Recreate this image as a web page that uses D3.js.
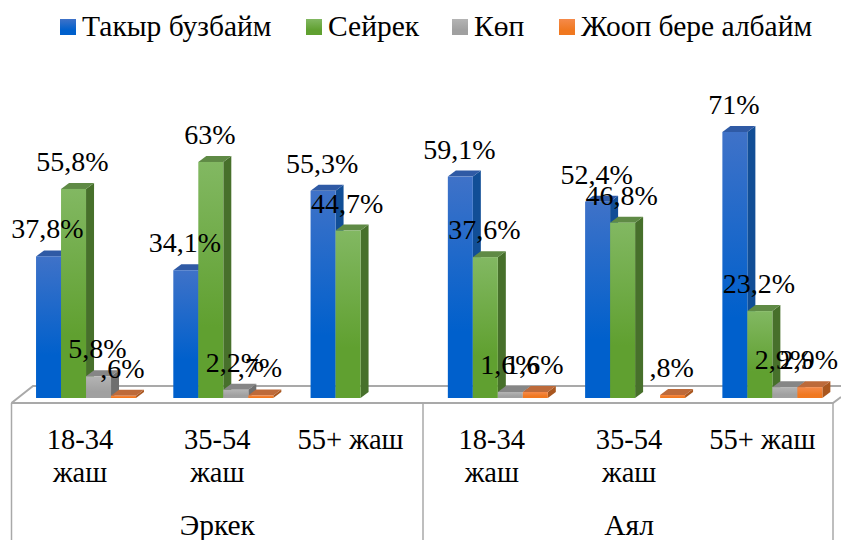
<!DOCTYPE html>
<html><head><meta charset="utf-8">
<script src="https://cdn.jsdelivr.net/npm/d3@7/dist/d3.min.js"></script>
<style>html,body{margin:0;padding:0;background:#fff}svg{display:block}text{font-family:"Liberation Serif",serif;fill:#000}</style>
</head><body><svg id="c" width="841" height="540"></svg>
<script>
const seriesNames=["Такыр бузбайм","Сейрек","Көп","Жооп бере албайм"];
const ageLabels=[["18-34","жаш"],["35-54","жаш"],["55+ жаш"],["18-34","жаш"],["35-54","жаш"],["55+ жаш"]];
const genderLabels=["Эркек","Аял"];
const takyr=[37.8,34.1,55.3,59.1,52.4,71];
const seirek=[55.8,63,44.7,37.6,46.8,23.2];
const kop=[5.8,2.2,null,1.6,null,2.9];
const joop=[0.6,0.7,null,1.6,0.8,2.9];
const valueLabels=[
 ["37,8%","34,1%","55,3%","59,1%","52,4%","71%"],
 ["55,8%","63%","44,7%","37,6%","46,8%","23,2%"],
 ["5,8%","2,2%",null,"1,6%",null,"2,9%"],
 [",6%",",7%",null,"1,6%",",8%","2,9%"]];
const series=[takyr,seirek,kop,joop];
const pal=[
 {top:"#3f72c8",bot:"#0060cc",side:"#114e96",cap:"#2f5aa5"},
 {top:"#82b862",bot:"#60a030",side:"#47702b",cap:"#5f8a45"},
 {top:"#b4b4b4",bot:"#a0a0a0",side:"#6f6f6f",cap:"#868686"},
 {top:"#f58a4a",bot:"#f07820",side:"#a9571f",cap:"#bd6a3a"}];
const svg=d3.select("#c");
const defs=svg.append("defs");
pal.forEach((p,i)=>{const g=defs.append("linearGradient").attr("id","g"+i).attr("x1",0).attr("y1",0).attr("x2",0).attr("y2",1);
 g.append("stop").attr("offset","0%").attr("stop-color",p.top);
 g.append("stop").attr("offset","70%").attr("stop-color",p.bot);
 g.append("stop").attr("offset","100%").attr("stop-color",p.bot);});
const baseY=398, dx=8, dy=6;
const y=d3.scaleLinear().domain([0,71]).range([baseY,132]);
const x0=d3.scaleBand().domain(d3.range(6)).range([17.4,841]).paddingInner(0.2716).paddingOuter(0.1358);
const x1=d3.scaleBand().domain(d3.range(4)).range([0,x0.bandwidth()]);
const gray="#a9a9a9";
svg.append("path").attr("d","M11.5,403 L33,386 L841,386").attr("fill","none").attr("stroke",gray).attr("stroke-width",2);
svg.append("path").attr("d","M11.5,403 L833,403 L841,397").attr("fill","none").attr("stroke",gray).attr("stroke-width",2);
[11.5,423,833].forEach(v=>svg.append("line").attr("x1",v).attr("x2",v).attr("y1",403).attr("y2",540).attr("stroke",gray).attr("stroke-width",1.5));
series.forEach((vals,si)=>{
 const g=svg.append("g");
 vals.forEach((v,ci)=>{ if(v==null) return;
  const l=x0(ci)+x1(si), w=x1.bandwidth(), t=y(v), b=baseY;
  g.append("path").attr("d",`M${l+w},${t}L${l+w+dx},${t-dy}L${l+w+dx},${b-dy}L${l+w},${b}Z`).attr("fill",pal[si].side);
  g.append("path").attr("d",`M${l},${t}L${l+dx},${t-dy}L${l+w+dx},${t-dy}L${l+w},${t}Z`).attr("fill",pal[si].cap);
  g.append("rect").attr("x",l).attr("y",t).attr("width",w).attr("height",b-t).attr("fill",`url(#g${si})`);
 });
});
series.forEach((vals,si)=>vals.forEach((v,ci)=>{ if(v==null) return;
  svg.append("text").attr("x",x0(ci)+x1(si)+x1.bandwidth()/2-1).attr("y",y(v)-18).attr("text-anchor","middle").attr("font-size",28).text(valueLabels[si][ci]);
}));
ageLabels.forEach((ls,ci)=>{
 const c=x0(ci)+x0.bandwidth()/2-(ls.length===1?10:6);
 ls.forEach((t,j)=>svg.append("text").attr("x",c).attr("y",449+j*33).attr("text-anchor","middle").attr("font-size",28.5).text(t));
});
genderLabels.forEach((t,i)=>svg.append("text").attr("x",(x0(i*3)+x0(i*3+2)+x0.bandwidth())/2-6).attr("y",535).attr("text-anchor","middle").attr("font-size",29.5).text(t));
const swatchLeft=d3.scaleOrdinal().domain(seriesNames).range([60,306,452,559]);
const lg=svg.append("g");
seriesNames.forEach((n,i)=>{
 lg.append("rect").attr("x",swatchLeft(n)).attr("y",19).attr("width",16).attr("height",16).attr("fill",`url(#g${i})`);
 lg.append("text").attr("x",swatchLeft(n)+22).attr("y",36).attr("font-size",29.5).text(n);
});
</script></body></html>
